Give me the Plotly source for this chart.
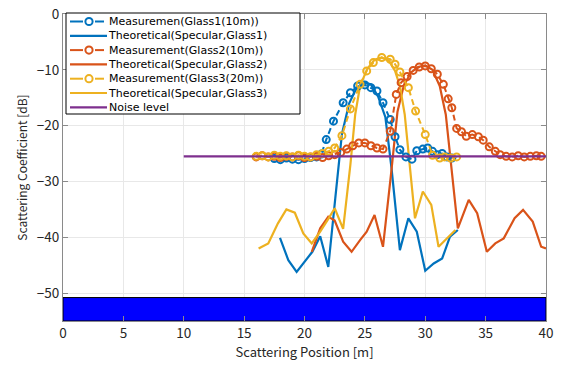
import plotly.graph_objects as go

# ---------------- data ----------------
meas1_x = [17.5, 18.0, 18.5, 19.0, 19.5, 20.0, 20.5, 21.0, 21.4, 21.8, 22.4, 23.2, 23.8, 24.4, 25.0, 25.5,
           26.0, 26.5, 27.1, 27.5, 27.9, 28.4, 28.9, 29.3, 29.8, 30.2, 30.6, 31.0, 31.4, 31.8, 32.2]
meas1_y = [-25.9, -26.1, -25.8, -26.0, -26.1, -25.9, -25.7, -25.6, -25.1, -22.5, -19.2, -15.9, -14.1, -12.9,
           -12.7, -13.2, -13.8, -15.9, -18.9, -22.0, -24.3, -25.6, -26.0, -24.5, -24.2, -24.0, -24.6, -25.2,
           -25.0, -25.6, -25.8]

theo1_x = [17.97, 18.66, 19.35, 20.0, 20.65, 21.3, 21.97, 22.55, 23.1, 23.7, 24.3, 24.9, 25.5, 26.1, 26.7,
           27.2, 27.9, 28.6, 29.3, 30.0, 30.7, 31.4, 32.05, 32.7]
theo1_y = [-40.1, -44.1, -46.2, -44.4, -42.6, -39.8, -45.3, -33.0, -21.5, -16.0, -13.3, -12.3, -12.6, -14.8,
           -18.5, -27.5, -42.3, -36.6, -39.0, -46.0, -44.7, -43.8, -39.9, -38.7]

meas2_x = [16.0, 16.5, 17.0, 17.5, 18.0, 18.5, 19.0, 19.5, 20.0, 20.5, 21.0, 21.5, 22.0, 22.5, 23.0, 23.5,
           24.0, 24.5, 25.0, 25.5, 26.0, 26.5, 27.1, 27.6, 28.0, 28.5, 29.0, 29.5, 30.0, 30.5, 31.0, 31.5,
           31.9, 32.2, 32.6, 33.0, 33.4, 33.9, 34.4, 34.8, 35.3, 35.8, 36.2, 36.7, 37.2, 37.7, 38.2, 38.7,
           39.2, 39.6]
meas2_y = [-25.6, -25.4, -25.6, -25.5, -25.7, -25.5, -25.6, -25.4, -25.7, -25.6, -25.5, -25.7, -25.4, -25.2,
           -24.8, -24.2, -23.6, -23.1, -23.1, -23.6, -24.0, -24.2, -21.0, -14.4, -12.3, -11.2, -10.1, -9.5,
           -9.3, -9.8, -10.8, -12.6, -15.2, -16.8, -20.5, -21.1, -21.9, -21.6, -22.0, -22.6, -23.8, -24.6,
           -25.2, -25.5, -25.6, -25.4, -25.6, -25.5, -25.4, -25.5]

theo2_x = [20.6, 21.3, 21.97, 22.5, 23.2, 23.9, 24.6, 25.15, 25.8, 26.5, 27.2, 27.7, 28.2, 28.8, 29.4, 30.0,
           30.6, 31.2, 31.7, 32.2, 32.7, 33.6, 34.3, 35.1, 35.8, 36.5, 37.4, 38.1, 38.9, 39.6, 40.0]
theo2_y = [-42.6, -38.4, -36.3, -37.0, -40.8, -42.6, -40.5, -39.0, -36.0, -41.7, -28.0, -17.5, -13.0, -10.5,
           -9.5, -9.2, -10.0, -12.9, -18.0, -28.0, -38.4, -33.3, -35.7, -42.6, -41.1, -40.2, -36.6, -35.1,
           -37.2, -41.7, -42.0]

meas3_x = [16.0, 16.5, 17.0, 17.5, 18.0, 18.5, 19.0, 19.5, 20.0, 20.5, 21.0, 21.5, 22.0, 22.5, 23.1, 23.8,
           24.6, 25.15, 25.7, 26.4, 27.1, 27.5, 27.9, 28.6, 29.2, 30.0, 30.6, 31.2, 31.6, 32.1, 32.6]
meas3_y = [-25.5, -25.4, -25.6, -25.3, -25.5, -25.4, -25.6, -25.3, -25.5, -25.6, -25.2, -25.0, -24.6, -24.0,
           -21.8, -17.0, -12.6, -10.2, -8.7, -7.8, -8.1, -9.0, -10.4, -13.2, -17.4, -21.6, -25.3, -25.8,
           -25.6, -25.8, -25.6]

theo3_x = [16.2, 17.0, 17.8, 18.5, 19.2, 19.9, 20.6, 21.3, 22.0, 22.5, 23.2, 23.8, 24.2, 24.6, 25.2, 25.8,
           26.4, 27.0, 27.5, 27.9, 28.3, 28.7, 29.15, 29.8, 30.5, 31.1, 31.8, 32.5]
theo3_y = [-42.0, -41.1, -37.5, -35.0, -35.6, -39.3, -41.1, -39.0, -36.6, -34.8, -38.5, -27.0, -18.0, -12.9,
           -9.8, -8.2, -7.8, -8.4, -10.2, -12.9, -18.0, -27.0, -36.6, -31.8, -34.2, -41.7, -40.2, -38.7]

noise_x = [10, 40]
noise_y = [-25.5, -25.5]

band_x = [0, 40, 40, 0, 0]
band_y = [-50.8, -50.8, -55, -55, -50.8]

x_ticks = [0, 5, 10, 15, 20, 25, 30, 35, 40]
y_ticks = [0, -10, -20, -30, -40, -50]

legend_labels = ["Measuremen(Glass1(10m))", "Theoretical(Specular,Glass1)",
                 "Measurement(Glass2(10m))", "Theoretical(Specular,Glass2)",
                 "Measurement(Glass3(20m))", "Theoretical(Specular,Glass3)", "Noise level"]

# ---------------- style ----------------
BLUE = "#0072BD"
ORANGE = "#D95319"
YELLOW = "#EDB120"
PURPLE = "#7E2F8E"
FONT = "Noto Sans CJK JP"
LEG_FONT = "DejaVu Sans"

W, H = 563, 365
L, R, T, B = 63, 17, 14, 44
PW, PH = W - L - R, H - T - B


def px(x):
    return (x - L) / PW


def py(y):
    return (H - B - y) / PH


fig = go.Figure()

fig.add_trace(go.Scatter(x=band_x, y=band_y, mode="lines", fill="toself", fillcolor="#0000FF",
                         line=dict(color="black", width=1), showlegend=False, hoverinfo="skip"))

meas_style = dict(mode="lines+markers", showlegend=False)
fig.add_trace(go.Scatter(x=theo1_x, y=theo1_y, mode="lines", line=dict(color=BLUE, width=2.2), showlegend=False))
fig.add_trace(go.Scatter(x=theo2_x, y=theo2_y, mode="lines", line=dict(color=ORANGE, width=2.2), showlegend=False))
fig.add_trace(go.Scatter(x=theo3_x, y=theo3_y, mode="lines", line=dict(color=YELLOW, width=2.2), showlegend=False))
fig.add_trace(go.Scatter(x=meas1_x, y=meas1_y, line=dict(color=BLUE, width=2, dash="6px,4px"),
                         marker=dict(symbol="circle-open", size=7, line=dict(width=2, color=BLUE)), **meas_style))
fig.add_trace(go.Scatter(x=meas2_x, y=meas2_y, line=dict(color=ORANGE, width=2, dash="6px,4px"),
                         marker=dict(symbol="circle-open", size=7, line=dict(width=2, color=ORANGE)), **meas_style))
fig.add_trace(go.Scatter(x=meas3_x, y=meas3_y, line=dict(color=YELLOW, width=2, dash="6px,4px"),
                         marker=dict(symbol="circle-open", size=7, line=dict(width=2, color=YELLOW)), **meas_style))
fig.add_trace(go.Scatter(x=noise_x, y=noise_y, mode="lines", line=dict(color=PURPLE, width=2.2), showlegend=False))

# ---------------- custom legend (layout only) ----------------
shapes = []
annotations = []
ROW0, ROWSTEP, FS = 21.5, 14.3, 11
shapes.append(dict(type="rect", xref="paper", yref="paper",
                   x0=px(66), x1=px(300), y0=py(114), y1=py(13),
                   line=dict(color="black", width=1), fillcolor="white", layer="above"))
row_colors = [BLUE, BLUE, ORANGE, ORANGE, YELLOW, YELLOW, PURPLE]
row_is_meas = [True, False, True, False, True, False, False]
for i, (col, meas) in enumerate(zip(row_colors, row_is_meas)):
    yy = ROW0 + i * ROWSTEP
    if meas:
        shapes.append(dict(type="line", xref="paper", yref="paper", x0=px(70), x1=px(83), y0=py(yy), y1=py(yy),
                           line=dict(color=col, width=2), layer="above"))
        shapes.append(dict(type="line", xref="paper", yref="paper", x0=px(95), x1=px(104), y0=py(yy), y1=py(yy),
                           line=dict(color=col, width=2), layer="above"))
        shapes.append(dict(type="circle", xref="paper", yref="paper",
                           x0=px(89 - 3.6), x1=px(89 + 3.6), y0=py(yy + 3.6), y1=py(yy - 3.6),
                           line=dict(color=col, width=2), fillcolor="rgba(0,0,0,0)", layer="above"))
    else:
        shapes.append(dict(type="line", xref="paper", yref="paper", x0=px(70), x1=px(107), y0=py(yy), y1=py(yy),
                           line=dict(color=col, width=2.2), layer="above"))
legend_text = "<br>".join(legend_labels)
annotations.append(dict(text=legend_text, xref="paper", yref="paper", x=px(107),
                        y=py(ROW0 - FS * 0.65), xanchor="left", yanchor="top", align="left",
                        showarrow=False, borderpad=0,
                        font=dict(family=LEG_FONT, size=FS, color="black")))

fig.update_layout(
    width=W, height=H,
    margin=dict(l=L, r=R, t=T, b=B, pad=0, autoexpand=False),
    paper_bgcolor="white", plot_bgcolor="white",
    showlegend=False,
    shapes=shapes, annotations=annotations,
    font=dict(family=FONT, size=13, color="#262626"),
)
axis_common = dict(showline=True, linecolor="#8a8a8a", linewidth=1, mirror="ticks", ticks="inside", ticklen=5,
                   tickcolor="#8a8a8a", showgrid=True, gridcolor="#e8e8e8", gridwidth=1, zeroline=False,
                   automargin=False, tickfont=dict(family=FONT, size=13.5, color="#262626"))
fig.update_xaxes(range=[0, 40], tickvals=x_ticks, ticktext=[str(v) for v in x_ticks],
                 title=dict(text="Scattering Position [m]", font=dict(family=FONT, size=13, color="#262626"),
                            standoff=6), **axis_common)
fig.update_yaxes(range=[-55, 0], tickvals=y_ticks, ticktext=[("\u2212" + str(-v)) if v < 0 else str(v) for v in y_ticks],
                 title=dict(text="Scattering Coefficient [dB]", font=dict(family=FONT, size=12, color="#262626"),
                            standoff=6), **axis_common)

fig.write_html("out.html", config={"displayModeBar": False, "staticPlot": True},
               post_script="document.body.style.margin='0';document.body.style.overflow='hidden';")
